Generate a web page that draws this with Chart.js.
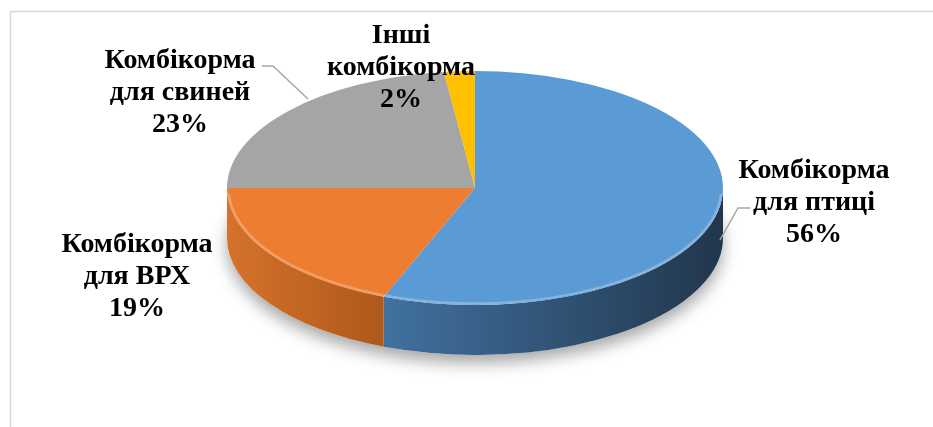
<!DOCTYPE html>
<html>
<head>
<meta charset="utf-8">
<script src="https://cdn.jsdelivr.net/npm/chart.js@4"></script>
<style>
  html, body { margin: 0; padding: 0; background: #fff; }
  canvas { display: block; }
</style>
</head>
<body>
<canvas id="kombikorm" width="933" height="427"></canvas>
<script>
  // категорії та частки (%)
  const categories = [
    ['Комбікорма', 'для птиці'],
    ['Комбікорма', 'для ВРХ'],
    ['Комбікорма', 'для свиней'],
    ['Інші', 'комбікорма']
  ];
  const shares = [56, 19, 23, 2];

  const faceColors = ['#5B9BD5', '#ED7D31', '#A5A5A5', '#FFC000'];
  const sideLight = ['#41719f', '#d5722b', '#8c8c8c', '#d9a300'];
  const sideDark = ['#21364c', '#ad591c', '#6e6e6e', '#b58800'];

  // геометрія "3D" еліпса
  const CX = 475, CY = 188, RX = 248, RY = 117, DEPTH = 50;

  // центри підписів (x, базова лінія першого рядка)
  const labelPos = [[814, 178], [137, 252], [180, 68], [401, 43]];
  const LINE_H = 32;

  const el = document.getElementById('kombikorm');

  const pie3d = {
    id: 'pie3d',
    beforeDraw(chart) {
      const ctx = chart.ctx;
      ctx.save();
      ctx.strokeStyle = '#d9d9d9';
      ctx.lineWidth = 1.5;
      ctx.strokeRect(10.5, 11.5, 940, 440);
      ctx.restore();
    },
    beforeDatasetsDraw(chart) {
      const ctx = chart.ctx;
      const arcs = chart.getDatasetMeta(0).data;

      // тінь під діаграмою
      ctx.save();
      ctx.shadowColor = 'rgba(0,0,0,0.35)';
      ctx.shadowBlur = 16;
      ctx.shadowOffsetY = 8;
      ctx.fillStyle = '#fff';
      ctx.beginPath();
      ctx.ellipse(CX, CY + DEPTH, RX, RY, 0, 0, Math.PI * 2);
      ctx.fill();
      ctx.restore();

      // бічна поверхня
      arcs.forEach((a, i) => {
        [[0, Math.PI], [Math.PI * 2, Math.PI * 3]].forEach(r => {
          const s = Math.max(a.startAngle, r[0]);
          const e = Math.min(a.endAngle, r[1]);
          if (s >= e) return;
          const x1 = CX + RX * Math.cos(e), x2 = CX + RX * Math.cos(s);
          const g = ctx.createLinearGradient(Math.min(x1, x2), 0, Math.max(x1, x2), 0);
          g.addColorStop(0, sideLight[i]);
          g.addColorStop(1, sideDark[i]);
          ctx.save();
          ctx.fillStyle = g;
          ctx.beginPath();
          ctx.ellipse(CX, CY, RX, RY, 0, s, e);
          ctx.ellipse(CX, CY + DEPTH, RX, RY, 0, e, s, true);
          ctx.closePath();
          ctx.fill();
          ctx.restore();
        });
      });

      // верхня поверхня: стискаємо коло бібліотеки в еліпс
      const a0 = arcs[0];
      const r0 = a0.outerRadius;
      ctx.save();
      ctx.translate(CX, CY);
      ctx.scale(RX / r0, RY / r0);
      ctx.translate(-a0.x, -a0.y);
    },
    afterDatasetsDraw(chart) {
      const ctx = chart.ctx;
      ctx.restore();

      // світлий край
      ctx.save();
      ctx.strokeStyle = 'rgba(255,255,255,0.25)';
      ctx.lineWidth = 2.5;
      ctx.beginPath();
      ctx.ellipse(CX, CY, RX - 1.5, RY - 1.5, 0, 0.05, Math.PI - 0.05);
      ctx.stroke();
      ctx.restore();

      // лінії-виноски
      ctx.save();
      ctx.strokeStyle = '#a6a6a6';
      ctx.lineWidth = 1.5;
      ctx.beginPath();
      ctx.moveTo(262, 66); ctx.lineTo(273, 66); ctx.lineTo(308, 99);
      ctx.moveTo(750, 208); ctx.lineTo(738, 208); ctx.lineTo(720, 240);
      ctx.stroke();
      ctx.restore();

      // підписи
      ctx.save();
      ctx.fillStyle = '#000';
      ctx.font = 'bold 28px "Liberation Serif"';
      ctx.textAlign = 'center';
      ctx.textBaseline = 'alphabetic';
      categories.forEach((lines, i) => {
        const [x, y] = labelPos[i];
        const all = lines.concat([shares[i] + '%']);
        all.forEach((t, k) => ctx.fillText(t, x, y + k * LINE_H));
      });
      ctx.restore();
    }
  };

  new Chart(el, {
    type: 'pie',
    data: {
      labels: categories,
      datasets: [{
        data: shares,
        backgroundColor: faceColors,
        borderWidth: 0,
        clip: false
      }]
    },
    options: {
      responsive: false,
      animation: false,
      events: [],
      plugins: {
        legend: { display: false },
        tooltip: { enabled: false }
      }
    },
    plugins: [pie3d]
  });
</script>
</body>
</html>
